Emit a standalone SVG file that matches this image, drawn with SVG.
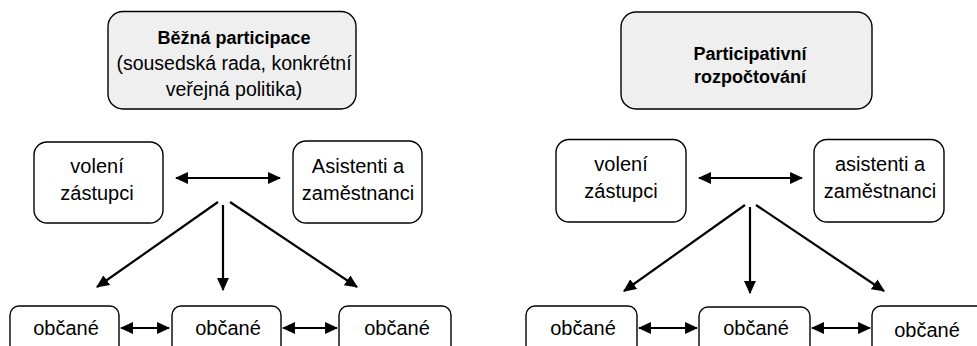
<svg xmlns="http://www.w3.org/2000/svg" width="977" height="346" viewBox="0 0 977 346">
<style>
.box{fill:#ffffff;stroke:#000;stroke-width:1.4}
.top{fill:#efefef;stroke:#000;stroke-width:1.4}
text{font-family:"Liberation Sans",Arial,sans-serif;fill:#000;text-anchor:middle}
.r{font-size:20px}
.r2{font-size:19.5px}
.b{font-size:18px;font-weight:bold}
.c{stroke:#000;stroke-width:2.2;fill:none}
</style>
<defs>
<marker id="ah" markerUnits="userSpaceOnUse" markerWidth="13" markerHeight="12" viewBox="0 0 12 11" refX="11" refY="5.5" orient="auto-start-reverse">
<path d="M0,0 L12,5.5 L0,11 z" fill="#000"/>
</marker>
</defs>
<g id="connectors">
<line class="c" x1="176" y1="178" x2="280" y2="178" marker-start="url(#ah)" marker-end="url(#ah)"/>
<line class="c" x1="218" y1="202" x2="97" y2="287" marker-end="url(#ah)"/>
<line class="c" x1="223" y1="205" x2="223" y2="290" marker-end="url(#ah)"/>
<line class="c" x1="230" y1="202" x2="357" y2="287" marker-end="url(#ah)"/>
<line class="c" x1="121" y1="328" x2="169" y2="328" marker-start="url(#ah)" marker-end="url(#ah)"/>
<line class="c" x1="283" y1="328" x2="337" y2="328" marker-start="url(#ah)" marker-end="url(#ah)"/>
<line class="c" x1="699" y1="178" x2="802" y2="178" marker-start="url(#ah)" marker-end="url(#ah)"/>
<line class="c" x1="745" y1="205" x2="624" y2="291" marker-end="url(#ah)"/>
<line class="c" x1="750" y1="207" x2="750" y2="293" marker-end="url(#ah)"/>
<line class="c" x1="756" y1="205" x2="884" y2="291" marker-end="url(#ah)"/>
<line class="c" x1="639" y1="328" x2="697" y2="328" marker-start="url(#ah)" marker-end="url(#ah)"/>
<line class="c" x1="812" y1="328" x2="870" y2="328" marker-start="url(#ah)" marker-end="url(#ah)"/>
</g>
<g id="n-bezna">
<rect class="top" x="108" y="11.5" width="248" height="97.5" rx="15"/>
<text class="b" x="234" y="44">Běžná participace</text>
<text class="r2" x="234" y="70">(sousedská rada, konkrétní</text>
<text class="r2" x="234" y="96">veřejná politika)</text>
</g>
<g id="n-voleni-1">
<rect class="box" x="34" y="142" width="129" height="81" rx="13"/>
<text class="r" x="97" y="173">volení</text>
<text class="r" x="97" y="200">zástupci</text>
</g>
<g id="n-asistenti-1">
<rect class="box" x="293" y="141" width="129" height="82" rx="13"/>
<text class="r" x="358" y="173">Asistenti a</text>
<text class="r" x="358" y="200">zaměstnanci</text>
</g>
<g id="n-obcane-1a">
<rect class="box" x="10" y="306" width="109" height="50" rx="9"/>
<text class="r" x="66" y="335">občané</text>
</g>
<g id="n-obcane-1b">
<rect class="box" x="172" y="306" width="109" height="50" rx="9"/>
<text class="r" x="228" y="335">občané</text>
</g>
<g id="n-obcane-1c">
<rect class="box" x="339" y="306" width="112" height="50" rx="9"/>
<text class="r" x="397" y="335">občané</text>
</g>
<g id="n-participativni">
<rect class="top" x="621" y="12" width="251" height="97" rx="15"/>
<text class="b" x="750" y="60">Participativní</text>
<text class="b" x="750" y="83">rozpočtování</text>
</g>
<g id="n-voleni-2">
<rect class="box" x="556" y="139.5" width="130" height="82.5" rx="13"/>
<text class="r" x="621" y="171">volení</text>
<text class="r" x="621" y="198">zástupci</text>
</g>
<g id="n-asistenti-2">
<rect class="box" x="814" y="139.5" width="130" height="82.5" rx="13"/>
<text class="r" x="880" y="171">asistenti a</text>
<text class="r" x="880" y="198">zaměstnanci</text>
</g>
<g id="n-obcane-2a">
<rect class="box" x="526" y="306" width="111" height="50" rx="9"/>
<text class="r" x="583" y="335">občané</text>
</g>
<g id="n-obcane-2b">
<rect class="box" x="699" y="307" width="111" height="50" rx="9"/>
<text class="r" x="756" y="335">občané</text>
</g>
<g id="n-obcane-2c">
<rect class="box" x="872" y="306" width="115" height="50" rx="9"/>
<text class="r" x="927" y="337">občané</text>
</g>
</svg>
